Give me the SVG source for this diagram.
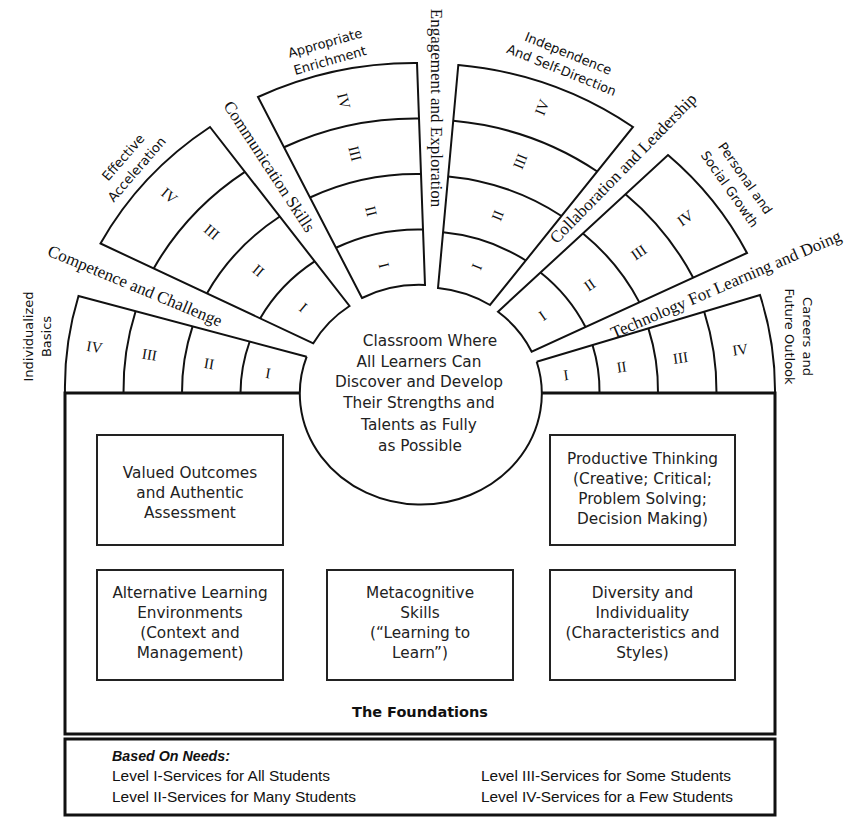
<svg xmlns="http://www.w3.org/2000/svg" width="846" height="817" viewBox="0 0 846 817">
<style>
  .ln { fill: none; stroke: #111; stroke-width: 2; stroke-linejoin: miter; }
  .box { fill: none; stroke: #111; stroke-width: 3; }
  .inbox { fill: none; stroke: #222; stroke-width: 2; }
  .num { font-family: "Liberation Serif", serif; font-size: 15px; fill: #111; text-anchor: middle; }
  .band { font-family: "Liberation Serif", serif; font-size: 17px; fill: #111; text-anchor: middle; }
  .out { font-family: "DejaVu Sans", sans-serif; font-size: 13px; fill: #111; text-anchor: middle; }
  .body { font-family: "DejaVu Sans", sans-serif; font-size: 15.3px; fill: #222; text-anchor: middle; }
  .leg { font-family: "Liberation Sans", sans-serif; font-size: 14px; fill: #111; }
</style>
<rect width="846" height="817" fill="#fff"/>

<!-- foundation frame (top edge interrupted by the central circle) -->
<g id="foundations-frame">
  <path class="box" d="M 299 393 L 65 393 L 65 734 L 775 734 L 775 393 L 541 393"/>
  <text x="420" y="717" font-family="DejaVu Sans, sans-serif" font-size="14.5px" font-weight="bold" fill="#111" text-anchor="middle">The Foundations</text>
</g>

<!-- central circle -->
<g id="center">
  <path class="ln" d="M 306.7 356.7 A 121 111 0 1 0 536.7 361.7"/>
  <text class="body" x="430" y="345.5">Classroom Where</text>
  <text class="body" x="419" y="366.5">All Learners Can</text>
  <text class="body" x="419" y="387">Discover and Develop</text>
  <text class="body" x="419" y="408">Their Strengths and</text>
  <text class="body" x="419" y="429.5">Talents as Fully</text>
  <text class="body" x="420" y="450.5">as Possible</text>
</g>

<!-- sector 1: Individualized Basics -->
<g id="sector-basics">
  <path class="ln" d="M 306.7 356.7 L 78.5 296 A 355 332 0 0 0 65 393"/>
  <path class="ln" d="M 249.7 341.5 A 179.5 166 0 0 0 240.5 393"/>
  <path class="ln" d="M 192.6 326.4 A 238 221 0 0 0 182 393"/>
  <path class="ln" d="M 135.6 311.2 A 296.5 277 0 0 0 123.5 393"/>
  <text class="num" transform="translate(268,373) rotate(9.5)" dy="0.35em">I</text>
  <text class="num" transform="translate(209,363.5) rotate(9.5)" dy="0.35em">II</text>
  <text class="num" transform="translate(149.5,354.5) rotate(9.5)" dy="0.35em">III</text>
  <text class="num" transform="translate(94.5,346.8) rotate(9.5)" dy="0.35em">IV</text>
  <g transform="translate(37.5,336.5) rotate(-90)">
    <text class="out" y="-9" dy="0.35em">Individualized</text>
    <text class="out" y="9" dy="0.35em">Basics</text>
  </g>
</g>

<!-- sector 2: Effective Acceleration -->
<g id="sector-acceleration">
  <path class="ln" d="M 313.3 343.3 L 100.5 243.5 A 355 332 0 0 1 210 127 L 349.5 306 A 121 111 0 0 0 313.3 343.3 Z"/>
  <path class="ln" d="M 260.1 318.4 A 179.5 166 0 0 1 314.6 261.3"/>
  <path class="ln" d="M 206.9 293.4 A 238 221 0 0 1 279.8 216.5"/>
  <path class="ln" d="M 153.7 268.5 A 296.5 277 0 0 1 244.9 171.8"/>
  <text class="num" transform="translate(303.3,307.3) rotate(40)" dy="0.35em">I</text>
  <text class="num" transform="translate(258.4,270.5) rotate(40)" dy="0.35em">II</text>
  <text class="num" transform="translate(211.8,231.8) rotate(40)" dy="0.35em">III</text>
  <text class="num" transform="translate(169.4,195.6) rotate(40)" dy="0.35em">IV</text>
  <g transform="translate(130,163.3) rotate(-49)">
    <text class="out" y="-9" dy="0.35em">Effective</text>
    <text class="out" y="9" dy="0.35em">Acceleration</text>
  </g>
</g>

<!-- sector 3: Appropriate Enrichment -->
<g id="sector-enrichment">
  <path class="ln" d="M 362 298 L 258 97 A 355 332 0 0 1 417 63 L 425 285 A 121 111 0 0 0 362 298 Z"/>
  <path class="ln" d="M 336 247.75 A 179.5 166 0 0 1 423 229.5"/>
  <path class="ln" d="M 310 197.5 A 238 221 0 0 1 421 174"/>
  <path class="ln" d="M 284 147.25 A 296.5 277 0 0 1 419 118.5"/>
  <text class="num" transform="translate(384.3,265.5) rotate(76)" dy="0.35em">I</text>
  <text class="num" transform="translate(371.4,211.2) rotate(76)" dy="0.35em">II</text>
  <text class="num" transform="translate(355.2,153.5) rotate(76)" dy="0.35em">III</text>
  <text class="num" transform="translate(344,100.8) rotate(76)" dy="0.35em">IV</text>
  <g transform="translate(327.5,51.7) rotate(-15.8)">
    <text class="out" y="-9" dy="0.35em">Appropriate</text>
    <text class="out" y="9" dy="0.35em">Enrichment</text>
  </g>
</g>

<!-- sector 4: Independence and Self-Direction -->
<g id="sector-independence">
  <path class="ln" d="M 438 288 L 458.3 65 A 355 332 0 0 1 633 127 L 490 305 A 121 111 0 0 0 438 288 Z"/>
  <path class="ln" d="M 443.1 232.3 A 179.5 166 0 0 1 525.8 260.5"/>
  <path class="ln" d="M 448.2 176.5 A 238 221 0 0 1 561.5 216"/>
  <path class="ln" d="M 453.2 120.8 A 296.5 277 0 0 1 597.3 171.5"/>
  <text class="num" transform="translate(476.5,266.8) rotate(-68)" dy="0.35em">I</text>
  <text class="num" transform="translate(497.5,215.5) rotate(-68)" dy="0.35em">II</text>
  <text class="num" transform="translate(520,161.4) rotate(-68)" dy="0.35em">III</text>
  <text class="num" transform="translate(541.8,107.3) rotate(-68)" dy="0.35em">IV</text>
  <g transform="translate(565,61.7) rotate(22)">
    <text class="out" y="-9" dy="0.35em">Independence</text>
    <text class="out" y="9" dy="0.35em">And Self-Direction</text>
  </g>
</g>

<!-- sector 5: Personal and Social Growth -->
<g id="sector-growth">
  <path class="ln" d="M 498 311.7 L 668 155 A 355 332 0 0 1 747 253 L 531.7 351.7 A 121 111 0 0 0 498 311.7 Z"/>
  <path class="ln" d="M 540.5 272.5 A 179.5 166 0 0 1 585.5 327"/>
  <path class="ln" d="M 583 233.4 A 238 221 0 0 1 639.4 302.4"/>
  <path class="ln" d="M 625.5 194.2 A 296.5 277 0 0 1 693.2 277.7"/>
  <text class="num" transform="translate(542.4,315.5) rotate(-35)" dy="0.35em">I</text>
  <text class="num" transform="translate(589.6,284.6) rotate(-35)" dy="0.35em">II</text>
  <text class="num" transform="translate(638.6,252.1) rotate(-35)" dy="0.35em">III</text>
  <text class="num" transform="translate(685.1,217.8) rotate(-35)" dy="0.35em">IV</text>
  <g transform="translate(737.5,183.7) rotate(55)">
    <text class="out" y="-9.5" dy="0.35em">Personal and</text>
    <text class="out" y="9.5" dy="0.35em">Social Growth</text>
  </g>
</g>

<!-- sector 6: Careers and Future Outlook -->
<g id="sector-careers">
  <path class="ln" d="M 536.7 361.7 L 760 295 A 355 332 0 0 1 775 393"/>
  <path class="ln" d="M 592.5 345 A 179.5 166 0 0 1 599.5 393"/>
  <path class="ln" d="M 648.4 328.4 A 238 221 0 0 1 658 393"/>
  <path class="ln" d="M 704.2 311.7 A 296.5 277 0 0 1 716.5 393"/>
  <text class="num" transform="translate(566,374.9) rotate(-8.5)" dy="0.35em">I</text>
  <text class="num" transform="translate(621.6,366.7) rotate(-8.5)" dy="0.35em">II</text>
  <text class="num" transform="translate(680.5,357.6) rotate(-8.5)" dy="0.35em">III</text>
  <text class="num" transform="translate(740.2,349.3) rotate(-8.5)" dy="0.35em">IV</text>
  <g transform="translate(799,336.5) rotate(90)">
    <text class="out" y="-9" dy="0.35em">Careers and</text>
    <text class="out" y="9" dy="0.35em">Future Outlook</text>
  </g>
</g>

<!-- labels running along the gaps between sectors -->
<g id="band-labels">
  <text class="band" transform="translate(135,286) rotate(22.5)" dy="0.32em">Competence and Challenge</text>
  <text class="band" transform="translate(269.2,166.7) rotate(56.8)" dy="0.32em">Communication Skills</text>
  <text class="band" transform="translate(436,108) rotate(90)" dy="0.32em">Engagement and Exploration</text>
  <text class="band" transform="translate(623.3,168.3) rotate(-45.7)" dy="0.32em">Collaboration and Leadership</text>
  <text class="band" transform="translate(726,284.5) rotate(-23.3)" dy="0.32em" font-size="16px">Technology For Learning and Doing</text>
</g>

<!-- foundation boxes -->
<g id="box-outcomes">
  <rect class="inbox" x="97" y="435" width="186" height="110"/>
  <text class="body" x="190" y="478">Valued Outcomes</text>
  <text class="body" x="190" y="498">and Authentic</text>
  <text class="body" x="190" y="518">Assessment</text>
</g>
<g id="box-thinking">
  <rect class="inbox" x="550" y="435" width="185" height="110"/>
  <text class="body" x="642.5" y="463.5">Productive Thinking</text>
  <text class="body" x="642.5" y="484">(Creative; Critical;</text>
  <text class="body" x="642.5" y="504">Problem Solving;</text>
  <text class="body" x="642.5" y="524">Decision Making)</text>
</g>
<g id="box-environments">
  <rect class="inbox" x="97" y="570" width="186" height="110"/>
  <text class="body" x="190" y="598">Alternative Learning</text>
  <text class="body" x="190" y="618">Environments</text>
  <text class="body" x="190" y="638">(Context and</text>
  <text class="body" x="190" y="658">Management)</text>
</g>
<g id="box-metacognitive">
  <rect class="inbox" x="327" y="570" width="186" height="110"/>
  <text class="body" x="420" y="598">Metacognitive</text>
  <text class="body" x="420" y="618">Skills</text>
  <text class="body" x="420" y="638">(“Learning to</text>
  <text class="body" x="420" y="658">Learn”)</text>
</g>
<g id="box-diversity">
  <rect class="inbox" x="550" y="570" width="185" height="110"/>
  <text class="body" x="642.5" y="598">Diversity and</text>
  <text class="body" x="642.5" y="618">Individuality</text>
  <text class="body" x="642.5" y="638">(Characteristics and</text>
  <text class="body" x="642.5" y="658">Styles)</text>
</g>

<!-- level legend -->
<g id="legend">
  <rect class="box" x="65" y="739" width="710" height="76"/>
  <text class="leg" x="112" y="761" font-weight="bold" font-style="italic" textLength="118" lengthAdjust="spacingAndGlyphs">Based On Needs:</text>
  <text class="leg" x="112" y="781" textLength="218" lengthAdjust="spacingAndGlyphs">Level I-Services for All Students</text>
  <text class="leg" x="112" y="802" textLength="244" lengthAdjust="spacingAndGlyphs">Level II-Services for Many Students</text>
  <text class="leg" x="481" y="781" textLength="250" lengthAdjust="spacingAndGlyphs">Level III-Services for Some Students</text>
  <text class="leg" x="481" y="802" textLength="252" lengthAdjust="spacingAndGlyphs">Level IV-Services for a Few Students</text>
</g>
</svg>
